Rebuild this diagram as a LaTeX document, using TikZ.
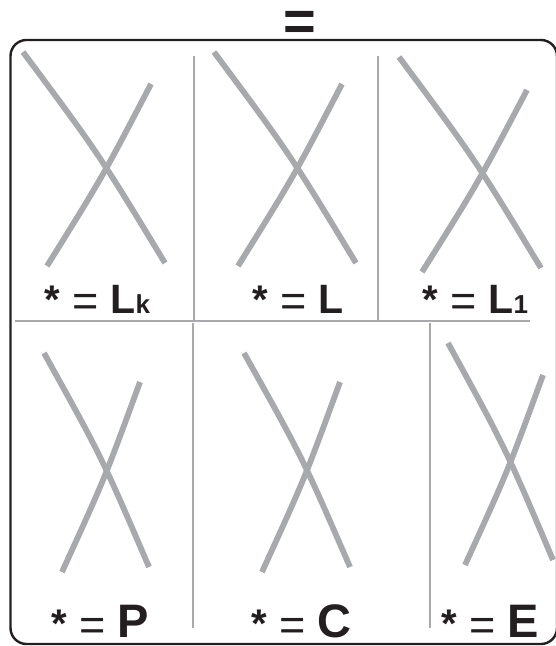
\documentclass[tikz,border=0pt]{standalone}
\usepackage{fontspec}
\setmainfont{Liberation Sans}
\usetikzlibrary{calc}
\definecolor{xgray}{HTML}{A7A9AC}
\definecolor{inkblack}{HTML}{231F20}
\newcommand{\myast}{{\fontsize{40}{40}\selectfont\bfseries *}}
\newcommand{\myeq}{\raisebox{-3pt}{\fontsize{45}{45}\selectfont =}}
\newcommand{\myhead}{\myast\hspace{12.5pt}\myeq\hspace{11.5pt}}
\newcommand{\toplet}[1]{{\fontsize{41}{41}\selectfont\bfseries #1}}
\newcommand{\subl}[1]{{\fontsize{26}{26}\selectfont\bfseries #1}}
\newcommand{\botlet}[1]{{\fontsize{47}{47}\selectfont\bfseries #1}}
\newcommand{\xstroke}[3]{\draw[crossstroke] (#1) .. controls ($(#1)!0.5!(#2)!#3!90:(#2)$) .. (#2);}
\begin{document}
\begin{tikzpicture}[x=1pt,y=-1pt,
  crossstroke/.style={draw=xgray,line width=5.8pt,line cap=butt},
  divider/.style={draw=xgray,line width=1.4pt},
  frame/.style={draw=inkblack,line width=2.4pt,rounded corners=16pt},
  lab/.style={inner sep=0pt,outer sep=0pt,anchor=base west,text=inkblack},
  title/.style={inner sep=0pt,outer sep=0pt,anchor=base,text=inkblack}]
\useasboundingbox (0,0) rectangle (555,646);
% title sign
\node[title] (eqtitle) at (300,40.5) {\fontsize{56}{56}\selectfont\bfseries =};
% frame
\draw[frame] (10.5,40) rectangle (557,644);
% dividers
\draw[divider] (194,56) -- (194,321);
\draw[divider] (378,56) -- (378,321);
\draw[divider] (15,321) -- (530,321);
\draw[divider] (193,323) -- (193,628);
\draw[divider] (430,323) -- (430,628);
% crosses top row
\xstroke{23,52}{165,263}{6pt}
\xstroke{151,84}{47,266}{4pt}
\xstroke{214,52}{356,263}{6pt}
\xstroke{342,84}{238,266}{4pt}
\xstroke{399,57}{541,268}{6pt}
\xstroke{527,90}{422,272}{4pt}
% crosses bottom row
\xstroke{44,353}{149,567}{6pt}
\xstroke{140,382}{62,572}{4pt}
\xstroke{244,353}{350,567}{6pt}
\xstroke{340,382}{262,572}{4pt}
\xstroke{448,343}{553,560}{6pt}
\xstroke{543,375}{465,565}{4pt}
% labels
\node[lab] (lk) at (44.7,313) {\myhead\toplet{L}\subl{k}};
\node[lab] (l) at (252.7,313) {\myhead\toplet{L}};
\node[lab] (l1) at (422.7,313) {\myhead\toplet{L}\subl{1}};
\node[lab] (p) at (51.7,637) {\myhead\botlet{P}};
\node[lab] (c) at (251.7,637) {\myhead\botlet{C}};
\node[lab] (e) at (441.7,637) {\myhead\botlet{E}};
\end{tikzpicture}
\end{document}
